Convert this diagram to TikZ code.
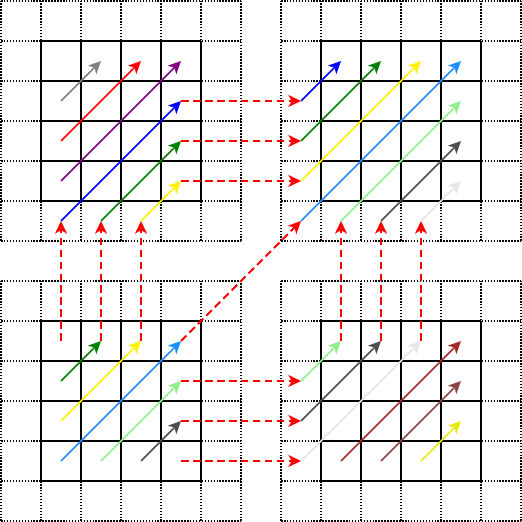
\documentclass[tikz,border=0pt]{standalone}
\usetikzlibrary{arrows.meta}

\definecolor{dodger}{HTML}{1E90FF}
\definecolor{lgreen}{HTML}{90EE90}
\definecolor{dgray}{HTML}{4D4D4D}
\definecolor{lgray}{HTML}{E6E6E6}
\definecolor{brownred}{HTML}{A52A2A}
\definecolor{rosy}{HTML}{8E4545}
\definecolor{olive}{HTML}{E8E817}
\definecolor{violet}{HTML}{800080}
\definecolor{dgreen}{HTML}{008000}
\definecolor{mgray}{HTML}{808080}

\tikzset{
  dotgrid/.style={line width=1.15pt, dash pattern=on 1.1pt off 1pt},
  solidgrid/.style={line width=1.3pt},
  vec/.style={line width=1.05pt, -{Stealth[length=9pt,width=8.5pt,inset=2.5pt]}},
  move/.style={red, line width=1.4pt, dash pattern=on 5.5pt off 3pt,
    -{Stealth[length=9pt,width=8.5pt,inset=2.5pt]}},
}

\begin{document}
\begin{tikzpicture}[x=1cm,y=1cm]
\useasboundingbox (0,0) rectangle (13.05,13.05);

% the four boards
\foreach \p/\ox/\oy in {tl/0.025/13.025, tr/7.025/13.025, bl/0.025/6.025, br/7.025/6.025}{
  \begin{scope}[shift={(\ox,\oy)}]
    \draw[dotgrid] (0,-6) grid (6,0);
    \draw[solidgrid] (1,-5) grid (5,-1);
    \foreach \i in {0,...,5}{
      \foreach \j in {0,...,5}{
        \coordinate (\p-\i-\j) at (\i+0.5,-\j-0.5);
      }
    }
  \end{scope}
}

% top left
\draw[vec,mgray] (tl-1-2) -- (tl-2-1);
\draw[vec,red] (tl-1-3) -- (tl-3-1);
\draw[vec,violet] (tl-1-4) -- (tl-4-1);
\draw[vec,blue] (tl-1-5) -- (tl-4-2);
\draw[vec,dgreen] (tl-2-5) -- (tl-4-3);
\draw[vec,yellow] (tl-3-5) -- (tl-4-4);

% top right
\draw[vec,blue] (tr-0-2) -- (tr-1-1);
\draw[vec,dgreen] (tr-0-3) -- (tr-2-1);
\draw[vec,yellow] (tr-0-4) -- (tr-3-1);
\draw[vec,dodger] (tr-0-5) -- (tr-4-1);
\draw[vec,lgreen] (tr-1-5) -- (tr-4-2);
\draw[vec,dgray] (tr-2-5) -- (tr-4-3);
\draw[vec,lgray] (tr-3-5) -- (tr-4-4);

% bottom left
\draw[vec,dgreen] (bl-1-2) -- (bl-2-1);
\draw[vec,yellow] (bl-1-3) -- (bl-3-1);
\draw[vec,dodger] (bl-1-4) -- (bl-4-1);
\draw[vec,lgreen] (bl-2-4) -- (bl-4-2);
\draw[vec,dgray] (bl-3-4) -- (bl-4-3);

% bottom right
\draw[vec,lgreen] (br-0-2) -- (br-1-1);
\draw[vec,dgray] (br-0-3) -- (br-2-1);
\draw[vec,lgray] (br-0-4) -- (br-3-1);
\draw[vec,brownred] (br-1-4) -- (br-4-1);
\draw[vec,rosy] (br-2-4) -- (br-4-2);
\draw[vec,olive] (br-3-4) -- (br-4-3);

% red moves between boards
\foreach \j in {2,3,4}{
  \draw[move] (tl-4-\j) -- (tr-0-\j);
  \draw[move] (bl-4-\j) -- (br-0-\j);
}
\foreach \i in {1,2,3}{
  \draw[move] (bl-\i-1) -- (tl-\i-5);
  \draw[move] (br-\i-1) -- (tr-\i-5);
}
\draw[move] (bl-4-1) -- (tr-0-5);
\end{tikzpicture}
\end{document}
